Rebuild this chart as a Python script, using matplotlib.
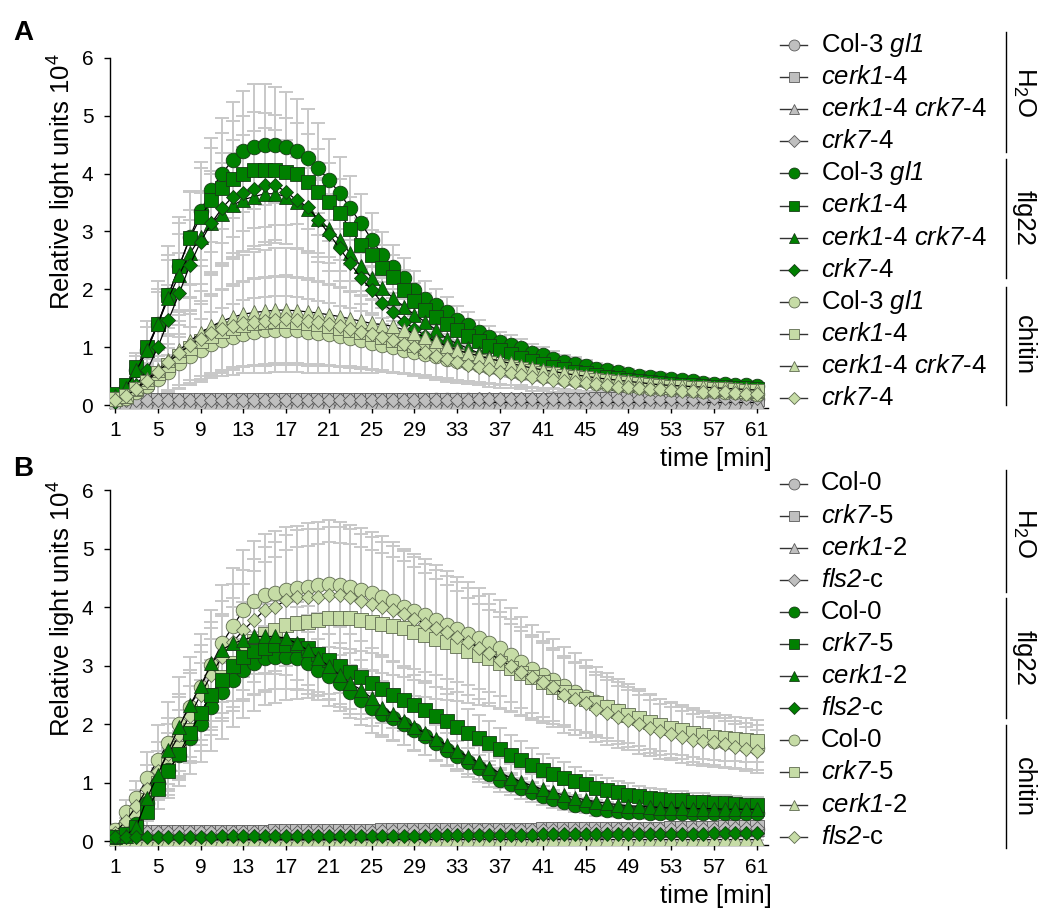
import numpy as np
import matplotlib
matplotlib.use("Agg")
import matplotlib.pyplot as plt

plt.rcParams['font.family'] = ['Liberation Sans', 'DejaVu Sans']
plt.rcParams['mathtext.fontset'] = 'custom'
plt.rcParams['mathtext.rm'] = 'Liberation Sans'
plt.rcParams['mathtext.it'] = 'Liberation Sans:italic'
# \mathsf is used for gene names so digits are slanted too
plt.rcParams['mathtext.sf'] = 'Liberation Sans:italic'

# time points (min)
minutes = list(range(1, 62))

# ---------------- panel A ----------------
a_h2o_col = [0.07, 0.07, 0.07, 0.07, 0.07, 0.07, 0.07, 0.07, 0.07, 0.07,
             0.07, 0.07, 0.07, 0.07, 0.07, 0.07, 0.07, 0.07, 0.07, 0.07,
             0.07, 0.07, 0.07, 0.07, 0.07, 0.07, 0.07, 0.07, 0.07, 0.07,
             0.08, 0.08, 0.08, 0.08, 0.08, 0.08, 0.08, 0.08, 0.08, 0.08,
             0.08, 0.08, 0.08, 0.08, 0.08, 0.09, 0.09, 0.09, 0.09, 0.09,
             0.09, 0.09, 0.09, 0.1, 0.1, 0.1, 0.1, 0.1, 0.1, 0.1, 0.1]
a_h2o_cerk = [0.08, 0.08, 0.08, 0.08, 0.08, 0.08, 0.08, 0.08, 0.08, 0.08,
              0.08, 0.08, 0.08, 0.08, 0.08, 0.08, 0.08, 0.08, 0.08, 0.08,
              0.08, 0.08, 0.08, 0.08, 0.08, 0.08, 0.08, 0.08, 0.08, 0.08,
              0.08, 0.08, 0.08, 0.09, 0.09, 0.09, 0.09, 0.09, 0.09, 0.09,
              0.09, 0.09, 0.09, 0.09, 0.09, 0.1, 0.1, 0.1, 0.1, 0.1,
              0.1, 0.1, 0.1, 0.1, 0.11, 0.11, 0.11, 0.11, 0.11, 0.11, 0.11]
a_h2o_double = [0.05, 0.05, 0.05, 0.05, 0.05, 0.05, 0.05, 0.05, 0.05, 0.05,
                0.05, 0.05, 0.05, 0.05, 0.05, 0.05, 0.05, 0.05, 0.05, 0.05,
                0.05, 0.05, 0.05, 0.05, 0.05, 0.05, 0.05, 0.05, 0.05, 0.05,
                0.05, 0.05, 0.05, 0.05, 0.05, 0.05, 0.05, 0.05, 0.05, 0.05,
                0.05, 0.05, 0.05, 0.05, 0.05, 0.05, 0.05, 0.05, 0.05, 0.05,
                0.05, 0.05, 0.05, 0.05, 0.05, 0.05, 0.05, 0.05, 0.05, 0.05, 0.05]
a_h2o_crk7 = [0.09, 0.09, 0.09, 0.09, 0.09, 0.09, 0.09, 0.09, 0.09, 0.09,
              0.09, 0.09, 0.09, 0.09, 0.09, 0.09, 0.09, 0.09, 0.09, 0.09,
              0.09, 0.09, 0.09, 0.09, 0.09, 0.09, 0.09, 0.09, 0.09, 0.09,
              0.09, 0.09, 0.09, 0.09, 0.1, 0.1, 0.1, 0.1, 0.1, 0.1,
              0.1, 0.1, 0.1, 0.1, 0.1, 0.1, 0.1, 0.11, 0.11, 0.11,
              0.11, 0.11, 0.11, 0.11, 0.11, 0.12, 0.12, 0.12, 0.12, 0.12, 0.12]

a_flg_col = [0.15, 0.3, 0.6, 0.95, 1.4, 1.9, 2.4, 2.9, 3.35, 3.72,
             4.0, 4.23, 4.38, 4.46, 4.5, 4.49, 4.46, 4.38, 4.26, 4.09,
             3.89, 3.66, 3.4, 3.14, 2.86, 2.59, 2.39, 2.19, 1.99, 1.84,
             1.73, 1.61, 1.47, 1.38, 1.27, 1.18, 1.09, 1.04, 0.98, 0.9,
             0.86, 0.8, 0.75, 0.71, 0.67, 0.63, 0.6, 0.57, 0.54, 0.51,
             0.49, 0.47, 0.45, 0.43, 0.41, 0.39, 0.37, 0.36, 0.35, 0.34, 0.33]
a_flg_cerk = [0.2, 0.35, 0.65, 1.0, 1.4, 1.9, 2.4, 2.88, 3.25, 3.54,
              3.75, 3.91, 4.0, 4.06, 4.06, 4.06, 4.03, 4.0, 3.86, 3.68,
              3.51, 3.31, 3.05, 2.76, 2.59, 2.36, 2.22, 1.99, 1.8, 1.65,
              1.52, 1.4, 1.3, 1.2, 1.1, 1.02, 0.95, 0.88, 0.82, 0.76,
              0.71, 0.66, 0.62, 0.58, 0.55, 0.52, 0.49, 0.46, 0.44, 0.42,
              0.4, 0.38, 0.37, 0.35, 0.34, 0.33, 0.32, 0.31, 0.3, 0.29, 0.28]
a_flg_double = [0.15, 0.3, 0.6, 0.95, 1.4, 1.85, 2.25, 2.62, 2.9, 3.15,
                3.3, 3.45, 3.55, 3.6, 3.65, 3.65, 3.6, 3.5, 3.38, 3.22,
                3.05, 2.85, 2.62, 2.4, 2.2, 2.02, 1.85, 1.7, 1.56, 1.44,
                1.3, 1.15, 1.06, 0.98, 0.9, 0.83, 0.77, 0.71, 0.66, 0.62,
                0.58, 0.54, 0.51, 0.48, 0.45, 0.43, 0.41, 0.39, 0.37, 0.35,
                0.34, 0.33, 0.32, 0.31, 0.3, 0.29, 0.28, 0.27, 0.26, 0.26, 0.25]
a_flg_crk7 = [0.05, 0.15, 0.35, 0.6, 1.0, 1.47, 1.93, 2.42, 2.82, 3.14,
              3.4, 3.6, 3.66, 3.74, 3.8, 3.8, 3.68, 3.54, 3.42, 3.2,
              2.96, 2.71, 2.45, 2.19, 1.99, 1.76, 1.61, 1.44, 1.32, 1.2,
              1.1, 1.01, 0.93, 0.86, 0.8, 0.74, 0.69, 0.64, 0.6, 0.56,
              0.53, 0.5, 0.47, 0.44, 0.42, 0.4, 0.38, 0.36, 0.34, 0.33,
              0.32, 0.31, 0.3, 0.29, 0.28, 0.27, 0.26, 0.26, 0.25, 0.25, 0.24]

a_chi_col = [0.1, 0.12, 0.22, 0.33, 0.45, 0.58, 0.72, 0.85, 0.96, 1.05,
             1.12, 1.18, 1.23, 1.27, 1.29, 1.3, 1.3, 1.29, 1.27, 1.25,
             1.22, 1.19, 1.16, 1.12, 1.08, 1.04, 1.0, 0.96, 0.92, 0.88,
             0.84, 0.8, 0.76, 0.72, 0.69, 0.66, 0.62, 0.59, 0.56, 0.53,
             0.5, 0.48, 0.45, 0.43, 0.41, 0.39, 0.37, 0.35, 0.33, 0.32,
             0.3, 0.29, 0.28, 0.27, 0.26, 0.25, 0.24, 0.23, 0.22, 0.21, 0.2]
a_chi_cerk = [0.1, 0.15, 0.28, 0.4, 0.55, 0.7, 0.84, 0.98, 1.1, 1.2,
              1.28, 1.34, 1.39, 1.42, 1.44, 1.45, 1.45, 1.44, 1.42, 1.4,
              1.37, 1.34, 1.3, 1.26, 1.22, 1.18, 1.13, 1.08, 1.03, 0.98,
              0.93, 0.88, 0.84, 0.8, 0.76, 0.72, 0.68, 0.65, 0.62, 0.59,
              0.56, 0.53, 0.5, 0.48, 0.46, 0.44, 0.42, 0.4, 0.38, 0.36,
              0.35, 0.33, 0.32, 0.31, 0.3, 0.29, 0.28, 0.27, 0.26, 0.25, 0.24]
a_chi_double = [0.1, 0.15, 0.3, 0.45, 0.6, 0.78, 0.95, 1.1, 1.25, 1.36,
                1.45, 1.52, 1.57, 1.6, 1.62, 1.64, 1.64, 1.63, 1.61, 1.59,
                1.56, 1.53, 1.49, 1.45, 1.41, 1.39, 1.36, 1.3, 1.24, 1.18,
                1.1, 1.02, 0.95, 0.9, 0.85, 0.8, 0.76, 0.72, 0.68, 0.64,
                0.61, 0.58, 0.55, 0.52, 0.5, 0.47, 0.45, 0.43, 0.41, 0.39,
                0.37, 0.35, 0.34, 0.33, 0.32, 0.31, 0.3, 0.29, 0.28, 0.27, 0.26]
a_chi_crk7 = [0.08, 0.15, 0.28, 0.42, 0.58, 0.74, 0.9, 1.03, 1.15, 1.24,
              1.31, 1.37, 1.41, 1.44, 1.46, 1.47, 1.48, 1.47, 1.45, 1.43,
              1.4, 1.36, 1.32, 1.27, 1.22, 1.17, 1.12, 1.06, 1.0, 0.92,
              0.85, 0.79, 0.74, 0.7, 0.66, 0.62, 0.58, 0.55, 0.52, 0.49,
              0.46, 0.44, 0.42, 0.4, 0.38, 0.36, 0.34, 0.32, 0.31, 0.29,
              0.28, 0.27, 0.26, 0.25, 0.24, 0.23, 0.22, 0.22, 0.21, 0.2, 0.2]

# standard deviations, panel A
a_flg_col_err = [0.05, 0.1, 0.3, 0.5, 0.75, 0.85, 0.85, 0.8, 0.85, 0.9,
                 0.95, 1.0, 1.05, 1.08, 1.05, 1.0, 0.95, 0.9, 0.85, 0.78,
                 0.7, 0.62, 0.55, 0.5, 0.45, 0.4, 0.38, 0.35, 0.32, 0.3,
                 0.28, 0.26, 0.24, 0.22, 0.2, 0.19, 0.18, 0.17, 0.16, 0.15,
                 0.14, 0.13, 0.12, 0.12, 0.11, 0.1, 0.1, 0.09, 0.09, 0.08,
                 0.08, 0.08, 0.07, 0.07, 0.07, 0.06, 0.06, 0.06, 0.06, 0.05, 0.05]
a_flg_cerk_err = [0.05, 0.1, 0.25, 0.45, 0.6, 0.7, 0.75, 0.8, 0.85, 0.9,
                  0.95, 1.0, 1.0, 1.0, 0.98, 0.95, 0.92, 0.88, 0.82, 0.75,
                  0.68, 0.6, 0.54, 0.48, 0.44, 0.4, 0.37, 0.34, 0.31, 0.29,
                  0.27, 0.25, 0.23, 0.21, 0.2, 0.19, 0.18, 0.17, 0.16, 0.15,
                  0.14, 0.13, 0.12, 0.11, 0.11, 0.1, 0.1, 0.09, 0.09, 0.08,
                  0.08, 0.08, 0.07, 0.07, 0.07, 0.06, 0.06, 0.06, 0.06, 0.05, 0.05]
a_flg_double_err = [0.05, 0.1, 0.25, 0.4, 0.55, 0.65, 0.7, 0.75, 0.8, 0.85,
                    0.88, 0.9, 0.9, 0.9, 0.88, 0.85, 0.82, 0.78, 0.72, 0.66,
                    0.6, 0.54, 0.48, 0.43, 0.39, 0.35, 0.32, 0.3, 0.28, 0.26,
                    0.24, 0.22, 0.2, 0.19, 0.18, 0.17, 0.16, 0.15, 0.14, 0.13,
                    0.12, 0.12, 0.11, 0.11, 0.1, 0.1, 0.09, 0.09, 0.08, 0.08,
                    0.08, 0.07, 0.07, 0.07, 0.06, 0.06, 0.06, 0.06, 0.05, 0.05, 0.05]
a_flg_crk7_err = [0.03, 0.08, 0.2, 0.35, 0.5, 0.6, 0.7, 0.78, 0.85, 0.9,
                  0.95, 0.98, 1.0, 1.0, 0.98, 0.95, 0.9, 0.85, 0.8, 0.72,
                  0.64, 0.56, 0.5, 0.44, 0.4, 0.36, 0.33, 0.3, 0.28, 0.26,
                  0.24, 0.22, 0.2, 0.19, 0.18, 0.17, 0.16, 0.15, 0.14, 0.13,
                  0.12, 0.12, 0.11, 0.1, 0.1, 0.09, 0.09, 0.08, 0.08, 0.08,
                  0.07, 0.07, 0.07, 0.06, 0.06, 0.06, 0.06, 0.05, 0.05, 0.05, 0.05]
a_chi_col_err = [0.05, 0.08, 0.15, 0.25, 0.32, 0.4, 0.45, 0.5, 0.52, 0.55,
                 0.56, 0.57, 0.58, 0.58, 0.58, 0.58, 0.58, 0.57, 0.56, 0.55,
                 0.54, 0.53, 0.52, 0.5, 0.48, 0.47, 0.45, 0.43, 0.41, 0.39,
                 0.37, 0.35, 0.33, 0.31, 0.3, 0.28, 0.27, 0.25, 0.24, 0.23,
                 0.22, 0.21, 0.2, 0.19, 0.18, 0.17, 0.16, 0.15, 0.14, 0.14,
                 0.13, 0.12, 0.12, 0.11, 0.11, 0.1, 0.1, 0.1, 0.09, 0.09, 0.09]
a_chi_cerk_err = [0.05, 0.1, 0.2, 0.3, 0.4, 0.5, 0.55, 0.6, 0.65, 0.68,
                  0.7, 0.72, 0.74, 0.75, 0.76, 0.76, 0.76, 0.75, 0.74, 0.72,
                  0.7, 0.68, 0.66, 0.64, 0.62, 0.6, 0.57, 0.54, 0.51, 0.48,
                  0.45, 0.42, 0.4, 0.38, 0.36, 0.34, 0.32, 0.3, 0.28, 0.27,
                  0.26, 0.24, 0.23, 0.22, 0.21, 0.2, 0.19, 0.18, 0.17, 0.16,
                  0.16, 0.15, 0.14, 0.14, 0.13, 0.13, 0.12, 0.12, 0.11, 0.11, 0.1]
a_chi_double_err = [0.05, 0.1, 0.2, 0.35, 0.45, 0.55, 0.65, 0.75, 0.85, 0.9,
                    0.95, 1.0, 1.02, 1.05, 1.06, 1.07, 1.07, 1.06, 1.05, 1.03,
                    1.0, 0.97, 0.93, 0.9, 0.86, 0.82, 0.78, 0.74, 0.7, 0.66,
                    0.62, 0.58, 0.54, 0.5, 0.47, 0.44, 0.41, 0.38, 0.36, 0.34,
                    0.32, 0.3, 0.28, 0.27, 0.26, 0.24, 0.23, 0.22, 0.21, 0.2,
                    0.19, 0.18, 0.17, 0.17, 0.16, 0.15, 0.15, 0.14, 0.14, 0.13, 0.13]
a_chi_crk7_err = [0.05, 0.1, 0.2, 0.3, 0.4, 0.48, 0.55, 0.6, 0.65, 0.68,
                  0.7, 0.72, 0.74, 0.75, 0.76, 0.76, 0.76, 0.75, 0.74, 0.72,
                  0.7, 0.68, 0.65, 0.62, 0.6, 0.57, 0.54, 0.51, 0.48, 0.45,
                  0.42, 0.39, 0.36, 0.34, 0.32, 0.3, 0.28, 0.26, 0.25, 0.24,
                  0.22, 0.21, 0.2, 0.19, 0.18, 0.17, 0.16, 0.15, 0.15, 0.14,
                  0.13, 0.13, 0.12, 0.12, 0.11, 0.11, 0.1, 0.1, 0.1, 0.09, 0.09]

# ---------------- panel B ----------------
b_h2o_col = [0.15, 0.15, 0.15, 0.15, 0.15, 0.15, 0.15, 0.15, 0.15, 0.15,
             0.15, 0.15, 0.15, 0.15, 0.15, 0.16, 0.16, 0.16, 0.16, 0.16,
             0.16, 0.16, 0.16, 0.16, 0.16, 0.17, 0.17, 0.17, 0.17, 0.17,
             0.17, 0.17, 0.17, 0.18, 0.18, 0.18, 0.18, 0.18, 0.18, 0.18,
             0.19, 0.19, 0.19, 0.19, 0.19, 0.19, 0.2, 0.2, 0.2, 0.2,
             0.2, 0.2, 0.21, 0.21, 0.21, 0.21, 0.21, 0.22, 0.22, 0.22, 0.22]
b_h2o_crk7 = [0.17, 0.17, 0.17, 0.17, 0.17, 0.17, 0.17, 0.17, 0.17, 0.17,
              0.17, 0.17, 0.17, 0.17, 0.17, 0.18, 0.18, 0.18, 0.18, 0.18,
              0.18, 0.18, 0.18, 0.18, 0.18, 0.19, 0.19, 0.19, 0.19, 0.19,
              0.19, 0.19, 0.19, 0.2, 0.2, 0.2, 0.2, 0.2, 0.2, 0.2,
              0.21, 0.21, 0.21, 0.21, 0.21, 0.21, 0.22, 0.22, 0.22, 0.22,
              0.22, 0.22, 0.23, 0.23, 0.23, 0.23, 0.23, 0.24, 0.24, 0.24, 0.24]
b_h2o_cerk = [0.14, 0.14, 0.14, 0.14, 0.14, 0.14, 0.14, 0.14, 0.14, 0.14,
              0.14, 0.14, 0.14, 0.14, 0.14, 0.15, 0.15, 0.15, 0.15, 0.15,
              0.15, 0.15, 0.15, 0.15, 0.15, 0.16, 0.16, 0.16, 0.16, 0.16,
              0.16, 0.16, 0.16, 0.17, 0.17, 0.17, 0.17, 0.17, 0.17, 0.17,
              0.18, 0.18, 0.18, 0.18, 0.18, 0.18, 0.19, 0.19, 0.19, 0.19,
              0.19, 0.19, 0.2, 0.2, 0.2, 0.2, 0.2, 0.21, 0.21, 0.21, 0.21]
b_h2o_fls = [0.16, 0.16, 0.16, 0.16, 0.16, 0.16, 0.16, 0.16, 0.16, 0.16,
             0.16, 0.16, 0.16, 0.16, 0.16, 0.17, 0.17, 0.17, 0.17, 0.17,
             0.17, 0.17, 0.17, 0.17, 0.17, 0.18, 0.18, 0.18, 0.18, 0.18,
             0.18, 0.18, 0.18, 0.19, 0.19, 0.19, 0.19, 0.19, 0.19, 0.19,
             0.2, 0.2, 0.2, 0.2, 0.2, 0.2, 0.21, 0.21, 0.21, 0.21,
             0.21, 0.21, 0.22, 0.22, 0.22, 0.22, 0.22, 0.23, 0.23, 0.23, 0.23]

b_flg_col = [0.08, 0.12, 0.3, 0.65, 1.0, 1.22, 1.48, 1.76, 2.0, 2.3,
             2.55, 2.75, 2.93, 3.04, 3.13, 3.15, 3.15, 3.13, 3.04, 2.93,
             2.82, 2.7, 2.56, 2.42, 2.28, 2.18, 2.1, 2.0, 1.9, 1.8,
             1.68, 1.57, 1.46, 1.35, 1.25, 1.15, 1.05, 0.98, 0.91, 0.84,
             0.78, 0.72, 0.68, 0.63, 0.6, 0.56, 0.54, 0.52, 0.51, 0.5,
             0.49, 0.49, 0.48, 0.48, 0.48, 0.48, 0.48, 0.48, 0.48, 0.48, 0.48]
b_flg_crk7 = [0.08, 0.12, 0.25, 0.5, 0.9, 1.2, 1.5, 1.85, 2.2, 2.5,
              2.75, 3.0, 3.15, 3.25, 3.3, 3.35, 3.35, 3.35, 3.3, 3.2,
              3.1, 3.0, 2.9, 2.8, 2.7, 2.6, 2.5, 2.42, 2.33, 2.24,
              2.15, 2.05, 1.95, 1.85, 1.76, 1.68, 1.58, 1.48, 1.39, 1.3,
              1.22, 1.15, 1.09, 1.03, 0.98, 0.92, 0.88, 0.84, 0.8, 0.77,
              0.75, 0.73, 0.71, 0.7, 0.68, 0.67, 0.66, 0.65, 0.64, 0.63, 0.63]
b_flg_cerk = [0.1, 0.1, 0.25, 0.74, 1.14, 1.56, 1.96, 2.33, 2.65, 3.04,
              3.27, 3.38, 3.44, 3.5, 3.5, 3.5, 3.47, 3.38, 3.27, 3.13,
              2.99, 2.84, 2.7, 2.59, 2.45, 2.28, 2.17, 2.06, 1.95, 1.85,
              1.75, 1.65, 1.55, 1.45, 1.35, 1.26, 1.17, 1.09, 1.02, 0.95,
              0.89, 0.84, 0.79, 0.75, 0.71, 0.68, 0.65, 0.63, 0.61, 0.6,
              0.59, 0.58, 0.57, 0.57, 0.56, 0.56, 0.56, 0.55, 0.55, 0.55, 0.55]
b_flg_fls = [0.08, 0.08, 0.08, 0.08, 0.08, 0.08, 0.08, 0.08, 0.08, 0.08,
             0.09, 0.09, 0.09, 0.09, 0.09, 0.09, 0.09, 0.09, 0.09, 0.09,
             0.1, 0.1, 0.1, 0.1, 0.1, 0.1, 0.1, 0.1, 0.1, 0.1,
             0.11, 0.11, 0.11, 0.11, 0.11, 0.11, 0.11, 0.11, 0.11, 0.11,
             0.12, 0.12, 0.12, 0.12, 0.12, 0.12, 0.12, 0.12, 0.12, 0.12,
             0.13, 0.13, 0.13, 0.13, 0.13, 0.13, 0.14, 0.14, 0.14, 0.14, 0.14]

b_chi_col = [0.2, 0.5, 0.74, 1.08, 1.39, 1.68, 2.0, 2.3, 2.64, 3.01,
             3.38, 3.67, 3.95, 4.1, 4.2, 4.25, 4.3, 4.32, 4.35, 4.38,
             4.4, 4.38, 4.35, 4.3, 4.25, 4.18, 4.1, 4.0, 3.93, 3.86,
             3.78, 3.7, 3.62, 3.55, 3.47, 3.39, 3.31, 3.18, 3.06, 2.95,
             2.85, 2.75, 2.65, 2.56, 2.47, 2.38, 2.3, 2.22, 2.15, 2.08,
             2.01, 1.95, 1.9, 1.85, 1.8, 1.76, 1.72, 1.69, 1.66, 1.63, 1.6]
b_chi_crk7 = [0.1, 0.25, 0.45, 0.7, 1.0, 1.3, 1.6, 1.9, 2.2, 2.5,
              2.8, 3.05, 3.25, 3.42, 3.55, 3.61, 3.7, 3.73, 3.75, 3.78,
              3.81, 3.81, 3.81, 3.78, 3.75, 3.72, 3.68, 3.64, 3.58, 3.52,
              3.46, 3.4, 3.33, 3.26, 3.19, 3.13, 3.05, 2.97, 2.88, 2.8,
              2.72, 2.64, 2.56, 2.49, 2.43, 2.36, 2.29, 2.22, 2.16, 2.1,
              2.04, 1.99, 1.94, 1.9, 1.86, 1.82, 1.79, 1.77, 1.75, 1.73, 1.71]
b_chi_cerk = [0.05, 0.05, 0.05, 0.05, 0.05, 0.05, 0.05, 0.05, 0.05, 0.05,
              0.05, 0.05, 0.05, 0.05, 0.05, 0.05, 0.05, 0.05, 0.05, 0.05,
              0.05, 0.05, 0.05, 0.05, 0.05, 0.05, 0.05, 0.05, 0.05, 0.05,
              0.05, 0.05, 0.05, 0.05, 0.05, 0.05, 0.05, 0.05, 0.05, 0.05,
              0.05, 0.05, 0.05, 0.05, 0.05, 0.05, 0.05, 0.05, 0.05, 0.05,
              0.05, 0.05, 0.05, 0.05, 0.05, 0.05, 0.05, 0.05, 0.05, 0.05, 0.05]
b_chi_fls = [0.15, 0.35, 0.6, 0.9, 1.2, 1.5, 1.82, 2.15, 2.5, 2.85,
             3.15, 3.4, 3.61, 3.78, 3.95, 4.01, 4.12, 4.18, 4.18, 4.18,
             4.2, 4.2, 4.18, 4.1, 4.05, 4.0, 3.95, 3.88, 3.8, 3.72,
             3.64, 3.57, 3.49, 3.41, 3.31, 3.21, 3.1, 3.0, 2.9, 2.8,
             2.72, 2.63, 2.5, 2.43, 2.37, 2.27, 2.2, 2.13, 2.07, 2.0,
             1.94, 1.88, 1.84, 1.78, 1.74, 1.71, 1.69, 1.66, 1.62, 1.58, 1.54]

# standard deviations, panel B
b_flg_col_err = [0.03, 0.05, 0.15, 0.25, 0.3, 0.35, 0.4, 0.42, 0.45, 0.48,
                 0.5, 0.52, 0.53, 0.54, 0.55, 0.55, 0.55, 0.54, 0.53, 0.52,
                 0.5, 0.48, 0.46, 0.44, 0.42, 0.4, 0.38, 0.36, 0.34, 0.32,
                 0.3, 0.28, 0.26, 0.25, 0.23, 0.22, 0.2, 0.19, 0.18, 0.17,
                 0.16, 0.15, 0.14, 0.13, 0.12, 0.12, 0.11, 0.11, 0.1, 0.1,
                 0.1, 0.09, 0.09, 0.09, 0.09, 0.08, 0.08, 0.08, 0.08, 0.08, 0.08]
b_flg_crk7_err = [0.03, 0.05, 0.15, 0.25, 0.35, 0.4, 0.45, 0.5, 0.55, 0.6,
                  0.65, 0.7, 0.72, 0.74, 0.75, 0.75, 0.75, 0.74, 0.72, 0.7,
                  0.68, 0.66, 0.64, 0.62, 0.6, 0.58, 0.56, 0.54, 0.52, 0.5,
                  0.48, 0.46, 0.44, 0.42, 0.4, 0.38, 0.36, 0.34, 0.32, 0.3,
                  0.28, 0.27, 0.26, 0.24, 0.23, 0.22, 0.21, 0.2, 0.19, 0.18,
                  0.17, 0.17, 0.16, 0.16, 0.15, 0.15, 0.14, 0.14, 0.14, 0.13, 0.13]
b_flg_cerk_err = [0.03, 0.05, 0.15, 0.3, 0.4, 0.45, 0.5, 0.55, 0.58, 0.6,
                  0.62, 0.63, 0.64, 0.64, 0.64, 0.64, 0.63, 0.62, 0.6, 0.58,
                  0.56, 0.54, 0.52, 0.5, 0.48, 0.46, 0.44, 0.42, 0.4, 0.38,
                  0.36, 0.34, 0.32, 0.3, 0.28, 0.27, 0.25, 0.24, 0.22, 0.21,
                  0.2, 0.19, 0.18, 0.17, 0.16, 0.15, 0.15, 0.14, 0.14, 0.13,
                  0.13, 0.12, 0.12, 0.12, 0.11, 0.11, 0.11, 0.11, 0.1, 0.1, 0.1]
b_flg_fls_err = [0.02, 0.02, 0.02, 0.02, 0.02, 0.02, 0.02, 0.02, 0.02, 0.02,
                 0.02, 0.02, 0.02, 0.02, 0.02, 0.02, 0.02, 0.02, 0.02, 0.02,
                 0.03, 0.03, 0.03, 0.03, 0.03, 0.03, 0.03, 0.03, 0.03, 0.03,
                 0.03, 0.03, 0.03, 0.03, 0.03, 0.03, 0.03, 0.03, 0.03, 0.03,
                 0.04, 0.04, 0.04, 0.04, 0.04, 0.04, 0.04, 0.04, 0.04, 0.04,
                 0.04, 0.04, 0.04, 0.04, 0.04, 0.04, 0.04, 0.04, 0.04, 0.04, 0.04]
b_chi_col_err = [0.1, 0.2, 0.3, 0.45, 0.6, 0.7, 0.8, 0.85, 0.9, 0.95,
                 1.0, 1.0, 1.02, 1.03, 1.05, 1.05, 1.06, 1.07, 1.08, 1.08,
                 1.08, 1.07, 1.06, 1.05, 1.04, 1.03, 1.02, 1.0, 0.98, 0.96,
                 0.94, 0.92, 0.9, 0.88, 0.86, 0.84, 0.82, 0.8, 0.78, 0.75,
                 0.72, 0.7, 0.67, 0.65, 0.62, 0.6, 0.58, 0.56, 0.54, 0.52,
                 0.5, 0.48, 0.47, 0.45, 0.44, 0.43, 0.42, 0.41, 0.4, 0.39, 0.38]
b_chi_crk7_err = [0.05, 0.15, 0.25, 0.35, 0.45, 0.55, 0.65, 0.75, 0.85, 0.95,
                  1.05, 1.1, 1.15, 1.2, 1.22, 1.25, 1.28, 1.3, 1.3, 1.3,
                  1.3, 1.28, 1.26, 1.24, 1.22, 1.2, 1.17, 1.14, 1.1, 1.06,
                  1.02, 0.98, 0.94, 0.9, 0.86, 0.82, 0.78, 0.75, 0.72, 0.69,
                  0.66, 0.63, 0.6, 0.58, 0.56, 0.54, 0.52, 0.5, 0.48, 0.47,
                  0.46, 0.45, 0.44, 0.43, 0.42, 0.41, 0.4, 0.39, 0.38, 0.37, 0.36]
b_chi_cerk_err = [0.02, 0.02, 0.02, 0.02, 0.02, 0.02, 0.02, 0.02, 0.02, 0.02,
                  0.02, 0.02, 0.02, 0.02, 0.02, 0.02, 0.02, 0.02, 0.02, 0.02,
                  0.02, 0.02, 0.02, 0.02, 0.02, 0.02, 0.02, 0.02, 0.02, 0.02,
                  0.02, 0.02, 0.02, 0.02, 0.02, 0.02, 0.02, 0.02, 0.02, 0.02,
                  0.02, 0.02, 0.02, 0.02, 0.02, 0.02, 0.02, 0.02, 0.02, 0.02,
                  0.02, 0.02, 0.02, 0.02, 0.02, 0.02, 0.02, 0.02, 0.02, 0.02, 0.02]
b_chi_fls_err = [0.08, 0.18, 0.28, 0.4, 0.5, 0.6, 0.7, 0.78, 0.85, 0.9,
                 0.95, 1.0, 1.03, 1.05, 1.08, 1.1, 1.12, 1.14, 1.15, 1.16,
                 1.17, 1.17, 1.16, 1.15, 1.14, 1.12, 1.1, 1.08, 1.05, 1.02,
                 1.0, 0.97, 0.94, 0.91, 0.88, 0.85, 0.82, 0.79, 0.76, 0.73,
                 0.7, 0.67, 0.64, 0.62, 0.6, 0.57, 0.55, 0.53, 0.51, 0.5,
                 0.48, 0.47, 0.45, 0.44, 0.43, 0.42, 0.41, 0.4, 0.39, 0.38, 0.37]

tick_minutes = list(range(1, 62, 4))
labels_a = ["Col-3 $\\mathsf{gl1}$", "$\\mathsf{cerk1}$-4",
            "$\\mathsf{cerk1}$-4 $\\mathsf{crk7}$-4", "$\\mathsf{crk7}$-4"]
labels_b = ["Col-0", "$\\mathsf{crk7}$-5", "$\\mathsf{cerk1}$-2", "$\\mathsf{fls2}$-c"]
treatments = ["H$_2$O", "flg22", "chitin"]

# styling
markers = ['o', 's', '^', 'D']
msizes = {'o': 10.5, 's': 9.5, '^': 10.5, 'D': 7.6}
fills = {"H$_2$O": ('#bfbfbf', '#5a5a5a'),
         "flg22": ('#008000', '#163d16'),
         "chitin": ('#c6dca6', '#5f6b50')}
err_color = '#c8c8c8'

fig = plt.figure(figsize=(10.42, 9.10), dpi=100)
W, H = 1042.0, 910.0


def make_axes(top_px, bottom_px):
    left, right = 110, 768
    return fig.add_axes([left / W, 1 - bottom_px / H, (right - left) / W,
                         (bottom_px - top_px) / H])


def style_axes(ax, y0):
    ax.set_xlim(0.53, 62.06)
    ax.set_ylim(y0, 6)
    ax.set_xticks(tick_minutes)
    ax.set_yticks(range(0, 7))
    ax.spines['top'].set_visible(False)
    ax.spines['right'].set_visible(False)
    for s in ['left', 'bottom']:
        ax.spines[s].set_linewidth(1.0)
    ax.tick_params(axis='x', direction='out', length=3.5, width=1, labelsize=15, pad=6)
    ax.tick_params(axis='y', direction='out', length=4, width=1, labelsize=15, pad=8)


def draw_panel(ax, groups, order):
    # error bars first, behind all markers
    for treat in order:
        for y, err in groups[treat]:
            if err is not None:
                ax.errorbar(minutes, y, yerr=err, fmt='none', ecolor=err_color,
                            elinewidth=1.4, capsize=5, capthick=1.4, zorder=1)
    z = 2
    for treat in order:
        fc, ec = fills[treat]
        for (y, err), m in zip(groups[treat], markers):
            ax.plot(minutes, y, '-', color='black', lw=0.9, marker=m,
                    ms=msizes[m], mfc=fc, mec=ec, mew=0.6, zorder=z)
            z += 1


axA = make_axes(57.7, 408)
style_axes(axA, -0.05)
groups_a = {
    "H$_2$O": [(a_h2o_col, None), (a_h2o_cerk, None), (a_h2o_double, None), (a_h2o_crk7, None)],
    "flg22": [(a_flg_col, a_flg_col_err), (a_flg_cerk, a_flg_cerk_err),
              (a_flg_double, a_flg_double_err), (a_flg_crk7, a_flg_crk7_err)],
    "chitin": [(a_chi_col, a_chi_col_err), (a_chi_cerk, a_chi_cerk_err),
               (a_chi_double, a_chi_double_err), (a_chi_crk7, a_chi_crk7_err)],
}
draw_panel(axA, groups_a, ["H$_2$O", "flg22", "chitin"])

axB = make_axes(490, 845)
style_axes(axB, -0.06)
groups_b = {
    "H$_2$O": [(b_h2o_col, None), (b_h2o_crk7, None), (b_h2o_cerk, None), (b_h2o_fls, None)],
    "flg22": [(b_flg_col, b_flg_col_err), (b_flg_crk7, b_flg_crk7_err),
              (b_flg_cerk, b_flg_cerk_err), (b_flg_fls, b_flg_fls_err)],
    "chitin": [(b_chi_col, b_chi_col_err), (b_chi_crk7, b_chi_crk7_err),
               (b_chi_cerk, b_chi_cerk_err), (b_chi_fls, b_chi_fls_err)],
}
draw_panel(axB, groups_b, ["H$_2$O", "chitin", "flg22"])

# overlay in pixel coordinates for labels and the legends
lax = fig.add_axes([0, 0, 1, 1], zorder=10)
lax.set_xlim(0, W)
lax.set_ylim(H, 0)
lax.axis('off')
lax.patch.set_alpha(0)

fs = 18.5
lax.text(23, 33, "A", fontsize=20, fontweight='bold', ha='center', va='center')
lax.text(23, 469, "B", fontsize=20, fontweight='bold', ha='center', va='center')
lax.text(62, 182, "Relative light units 10$^4$", rotation=90, fontsize=fs,
         ha='center', va='center')
lax.text(62, 609, "Relative light units 10$^4$", rotation=90, fontsize=fs,
         ha='center', va='center')
lax.text(772, 459, "time [min]", fontsize=fs, ha='right', va='center')
lax.text(772, 896, "time [min]", fontsize=fs, ha='right', va='center')


def draw_legend(row0, labels, brackets, label_y):
    row = 0
    for treat in treatments:
        fc, ec = fills[treat]
        for lab, m in zip(labels, markers):
            y = row0 + row * 32.1
            lax.plot([780, 807], [y, y], color='#333333', lw=1.0)
            lax.plot([793.5], [y], marker=m, ms=msizes[m] * 0.75, mfc=fc,
                     mec=ec, mew=0.6, ls='none')
            lax.text(821, y, lab, fontsize=fs, ha='left', va='center')
            row += 1
    for (y0, y1), treat, ly in zip(brackets, treatments, label_y):
        lax.plot([1006, 1006], [y0, y1], color='black', lw=1.0)
        lax.text(1024, ly, treat, rotation=270, fontsize=fs, ha='center', va='center')


draw_legend(45, labels_a, [(32, 152), (159, 278), (287, 405)], [92, 218, 345])
draw_legend(483.5, labels_b, [(470, 592), (598, 718), (725, 848)], [533, 658, 787])

fig.savefig("out.png", dpi=100)
